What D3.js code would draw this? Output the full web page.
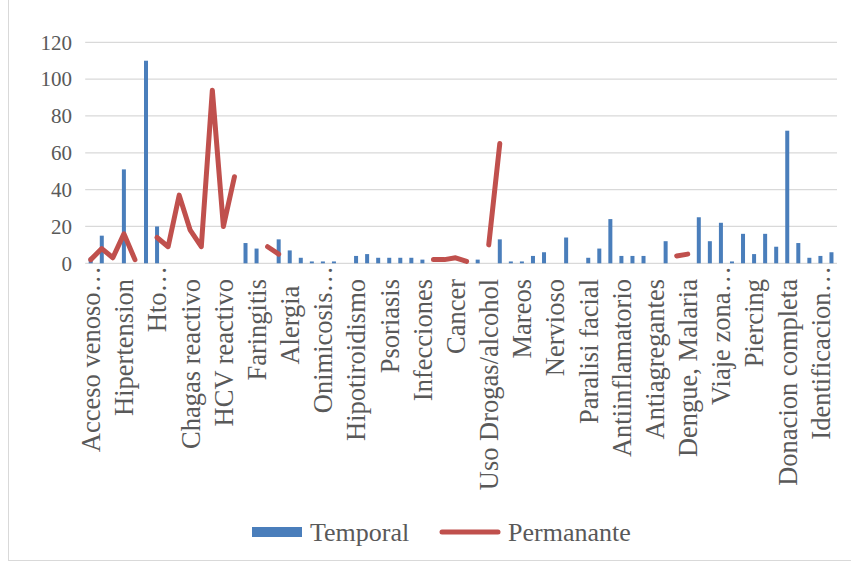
<!DOCTYPE html>
<html>
<head>
<meta charset="utf-8">
<script src="https://cdn.jsdelivr.net/npm/d3@7"></script>
<style>
  body { margin: 0; background: #fff; }
  text { font-family: "Liberation Serif", "Times New Roman", serif; fill: #595959; }
</style>
</head>
<body>
<svg id="chart"></svg>
<script>
// canvas size
var width = 851, height = 563;
var margin = {top: 42.3, right: 14, bottom: 299.7, left: 85.2};

// labels shown on the axis (only every third category carries one)
const labels = [
  "Acceso venoso…", "", "", "Hipertension", "", "", "Hto…", "", "", "Chagas reactivo", "", "",
  "HCV reactivo", "", "", "Faringitis", "", "", "Alergia ", "", "", "Onimicosis…", "", "",
  "Hipotiroidismo", "", "", "Psoriasis", "", "", "Infecciones", "", "", "Cancer", "", "",
  "Uso Drogas/alcohol", "", "", "Mareos", "", "", "Nervioso", "", "", "Paralisi facial", "", "",
  "Antiinflamatorio", "", "", "Antiagregantes", "", "", "Dengue, Malaria", "", "", "Viaje zona…", "", "",
  "Piercing", "", "", "Donacion completa", "", "", "Identificacion…", ""
];

// series values (null = empty cell)
const temporal = [
  3, 15, null, 51, null, 110, 20, null, null, null, null, null,
  null, null, 11, 8, null, 13, 7, 3, 1, 1, 1, null,
  4, 5, 3, 3, 3, 3, 2, null, null, null, null, 2,
  null, 13, 1, 1, 4, 6, null, 14, null, 3, 8, 24,
  4, 4, 4, null, 12, null, null, 25, 12, 22, 1, 16,
  5, 16, 9, 72, 11, 3, 4, 6
];
const permanante = [
  2, 8, 3, 16, 2, null, 14, 9, 37, 18, 9, 94,
  20, 47, null, null, 9, 5, null, null, null, null, null, null,
  null, null, null, null, null, null, null, 2, 2, 3, 1, null,
  10, 65, null, null, null, null, null, null, null, null, null, null,
  null, null, null, null, null, 4, 5, null, null, null, null, null,
  null, null, null, null, null, null, null, null
];

const yTicks = [0, 20, 40, 60, 80, 100, 120];
const seriesNames = ["Temporal", "Permanante"];
const blue = "#4a7ebb", red = "#c0504d";

const svg = d3.select("#chart").attr("width", width).attr("height", height);

// chart border
svg.append("rect")
  .attr("x", 8.5).attr("y", -1)
  .attr("width", width).attr("height", height - 1.5)
  .attr("fill", "none").attr("stroke", "#d9d9d9");

const idx = d3.range(labels.length);
const x = d3.scaleBand().domain(idx).range([margin.left, width - margin.right]);
const y = d3.scaleLinear().domain([0, 120]).range([height - margin.bottom, margin.top]);

// grid lines
svg.append("g")
  .selectAll("line")
  .data(yTicks)
  .join("line")
    .attr("x1", margin.left).attr("x2", width - margin.right)
    .attr("y1", d => y(d)).attr("y2", d => y(d))
    .attr("stroke", "#d9d9d9").attr("stroke-width", 1.3);

// y axis labels
svg.append("g")
  .selectAll("text")
  .data(yTicks)
  .join("text")
    .attr("x", 72).attr("y", d => y(d))
    .attr("dy", "0.35em")
    .attr("text-anchor", "end")
    .style("font-size", "21px")
    .text(d => d);

// bars
const barW = 4;
svg.append("g")
  .selectAll("rect")
  .data(idx.filter(i => temporal[i] != null))
  .join("rect")
    .attr("x", i => x(i) + x.bandwidth() / 2 - barW / 2)
    .attr("width", barW)
    .attr("y", i => y(temporal[i]))
    .attr("height", i => y(0) - y(temporal[i]))
    .attr("fill", blue);

// line with gaps
const line = d3.line()
  .defined(i => permanante[i] != null)
  .x(i => x(i) + x.bandwidth() / 2)
  .y(i => y(permanante[i]));

svg.append("path")
  .datum(idx)
  .attr("d", line)
  .attr("fill", "none")
  .attr("stroke", red)
  .attr("stroke-width", 5)
  .attr("stroke-linejoin", "round")
  .attr("stroke-linecap", "round");

// x labels, rotated
svg.append("g")
  .selectAll("text")
  .data(idx.filter(i => labels[i] !== ""))
  .join("text")
    .attr("transform", i => {
      var ty = labels[i].endsWith("…") ? 266 : 279;
      return "translate(" + (x(i) + x.bandwidth() / 2) + "," + ty + ") rotate(-90)";
    })
    .attr("dy", "0.35em")
    .attr("text-anchor", "end")
    .style("font-size", "26.5px")
    .style("white-space", "pre")
    .text(i => labels[i]);

// legend
const lg = svg.append("g");
lg.append("rect")
  .attr("x", 252).attr("y", 527).attr("width", 50).attr("height", 10)
  .attr("fill", blue);
lg.append("text")
  .attr("x", 310).attr("y", 532).attr("dy", "0.35em")
  .style("font-size", "26px")
  .text(seriesNames[0]);
lg.append("line")
  .attr("x1", 442).attr("x2", 498).attr("y1", 532).attr("y2", 532)
  .attr("stroke", red).attr("stroke-width", 5).attr("stroke-linecap", "round");
lg.append("text")
  .attr("x", 508).attr("y", 532).attr("dy", "0.35em")
  .style("font-size", "26px")
  .text(seriesNames[1]);
</script>
</body>
</html>
